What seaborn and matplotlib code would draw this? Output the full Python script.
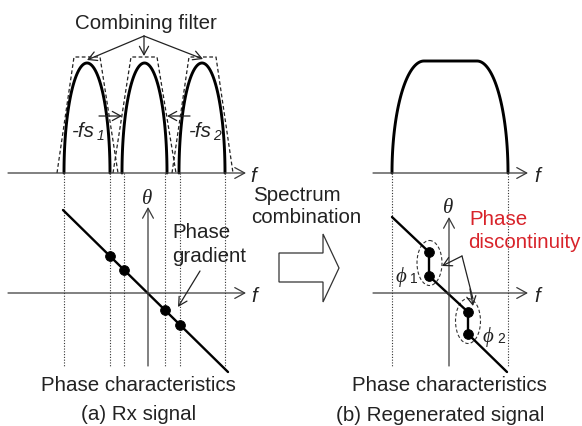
import numpy as np
import pandas as pd
import matplotlib.pyplot as plt
import seaborn as sns
from matplotlib.patches import Ellipse, Polygon

# ---- geometry of the diagram (pixel units, y grows downwards) ----
W, H = 582, 427
spec_base = 174          # spectrum f-axis
phase_base = 294         # phase f-axis
vline_bottom = 367

# (a) Rx signal: three received spectra
lobe_centers = [87, 144.5, 202]
lobe_halfwidths = [23, 22.5, 23]
lobe_peak = 64

# combining filters (trapezoids): bottom-left, top-left, top-right, bottom-right
filt_bot_left = [57, 113, 172]
filt_top_left = [74, 131, 189]
filt_top_right = [100, 157, 216]
filt_bot_right = [118, 176, 233]
filt_top = 58

band_edges_a = [64, 110, 124, 165, 180, 225]
theta_x_a = 148
phase_line_a_x = [63, 228]
phase_line_a_y = [211, 373]
dots_a_x = [110, 124, 165, 180]
dots_a_y = [257, 271, 311, 326]

# (b) regenerated signal
comb_left, comb_flat_l, comb_flat_r, comb_right = 392, 424, 477, 508
comb_top = 62
theta_x_b = 449
phase_b_x = [392, 429, 429, 468, 468, 507]
phase_b_y = [218, 253, 277, 313, 335, 373]
dots_b_x = [429, 429, 468, 468]
dots_b_y = [253, 277, 313, 335]
ellipse_cx = [429.5, 468]
ellipse_cy = [264, 322]

AX = '#3a3a3a'
TXT = '#222222'
RED = '#d8232a'

sns.set_theme(style='white')
plt.rcParams['font.family'] = ['Liberation Sans', 'DejaVu Sans']
SERIF = ['Liberation Serif', 'DejaVu Serif']

fig = plt.figure(figsize=(5.82, 4.27), dpi=100)
ax = fig.add_axes([0, 0, 1, 1])
ax.set_xlim(0, W)
ax.set_ylim(H, 0)
ax.axis('off')


def arrow(x0, y0, x1, y1, lw=0.9, color=AX, ms=13):
    ax.annotate('', xy=(x1, y1), xytext=(x0, y0),
                arrowprops=dict(arrowstyle='->,head_length=0.55,head_width=0.3',
                                lw=lw, color=color, shrinkA=0, shrinkB=0,
                                mutation_scale=ms))


def line(xs, ys, **kw):
    df = pd.DataFrame({'x': xs, 'y': ys})
    sns.lineplot(data=df, x='x', y='y', sort=False, estimator=None, ax=ax, **kw)


# ---------- panel (a) ----------
t = np.linspace(0, np.pi, 120)
for c, hw in zip(lobe_centers, lobe_halfwidths):
    line(c + hw * np.cos(t), spec_base - (spec_base - lobe_peak) * np.sin(t),
         color='black', lw=2.1)

for bl, tl, tr, br in zip(filt_bot_left, filt_top_left, filt_top_right, filt_bot_right):
    line([bl, tl, tr, br], [spec_base, filt_top, filt_top, spec_base],
         color=TXT, lw=0.9, linestyle=(0, (3, 2)))

for xe in band_edges_a:
    ax.plot([xe, xe], [spec_base, vline_bottom], color='#333333', lw=0.8,
            linestyle=(0, (1, 1.5)))

arrow(8, spec_base, 246, spec_base)
arrow(8, phase_base, 246, phase_base)
arrow(theta_x_a, vline_bottom, theta_x_a, 208)

line(phase_line_a_x, phase_line_a_y, color='black', lw=1.7)
sns.scatterplot(x=dots_a_x, y=dots_a_y, s=50, color='black', edgecolor='black',
                ax=ax, zorder=5)

fs = 14.8
ax.text(146, 29, 'Combining filter', fontsize=fs, ha='center', va='baseline', color=TXT)
for tip in [(87, 61), (144, 57), (203, 60)]:
    arrow(144, 37, tip[0], tip[1], lw=0.9, color=TXT, ms=11)

ax.text(72, 137, '-fs', fontsize=fs, style='italic', ha='left', va='baseline', color=TXT)
ax.text(97, 140, '1', fontsize=10, style='italic', ha='left', va='baseline', color=TXT)
ax.text(189, 137, '-fs', fontsize=fs, style='italic', ha='left', va='baseline', color=TXT)
ax.text(213, 140, '2', fontsize=10, style='italic', ha='left', va='baseline', color=TXT)
arrow(99, 117, 122, 117, color=TXT, ms=11)
arrow(190, 117, 167, 117, color=TXT, ms=11)

ax.text(250, 182, 'f', fontsize=fs, style='italic', ha='left', va='baseline', color=TXT)
ax.text(251, 302, 'f', fontsize=fs, style='italic', ha='left', va='baseline', color=TXT)
ax.text(147.5, 200, 'θ', fontsize=15, family=SERIF,
        style='italic', ha='center', va='center', color=TXT)

ax.text(172, 238, 'Phase', fontsize=fs, ha='left', va='baseline', color=TXT)
ax.text(172, 262, 'gradient', fontsize=fs, ha='left', va='baseline', color=TXT)
arrow(200, 272, 178, 308, color=TXT, ms=11)

ax.text(138, 391, 'Phase characteristics', fontsize=fs, ha='center', va='baseline', color=TXT)
ax.text(139, 420, '(a) Rx signal', fontsize=fs, ha='center', va='baseline', color=TXT)

# ---------- middle ----------
ax.text(253, 201, 'Spectrum', fontsize=fs, ha='left', va='baseline', color=TXT)
ax.text(251, 223, 'combination', fontsize=fs, ha='left', va='baseline', color=TXT)
big_arrow = Polygon([(279, 254), (323, 254), (323, 235), (339, 269),
                     (323, 303), (323, 283), (279, 283)], closed=True,
                    facecolor='white', edgecolor='#333', lw=0.9)
ax.add_patch(big_arrow)

# ---------- panel (b) ----------
q = np.linspace(0, np.pi / 2, 60)
hgt = spec_base - comb_top
xs = np.concatenate([comb_flat_l - (comb_flat_l - comb_left) * np.cos(q),
                     comb_flat_r + (comb_right - comb_flat_r) * np.sin(q)])
ys = np.concatenate([spec_base - hgt * np.sin(q),
                     spec_base - hgt * np.cos(q)])
line(xs, ys, color='black', lw=2.1)

for xe in [comb_left, comb_right]:
    ax.plot([xe, xe], [spec_base, vline_bottom], color='#333333', lw=0.8,
            linestyle=(0, (1, 1.5)))

arrow(373, spec_base, 528, spec_base)
arrow(373, phase_base, 528, phase_base)
arrow(theta_x_b, vline_bottom, theta_x_b, 218)

line(phase_b_x, phase_b_y, color='black', lw=1.7)
sns.scatterplot(x=dots_b_x, y=dots_b_y, s=50, color='black', edgecolor='black',
                ax=ax, zorder=5)
for cx, cy in zip(ellipse_cx, ellipse_cy):
    ax.add_patch(Ellipse((cx, cy), 25, 45, fill=False, edgecolor='#333',
                         lw=0.8, linestyle=(0, (3, 2))))

ax.text(534, 182, 'f', fontsize=fs, style='italic', ha='left', va='baseline', color=TXT)
ax.text(534, 302, 'f', fontsize=fs, style='italic', ha='left', va='baseline', color=TXT)
ax.text(448.5, 209, 'θ', fontsize=15, family=SERIF,
        style='italic', ha='center', va='center', color=TXT)

ax.text(469, 225, 'Phase', fontsize=fs, ha='left', va='baseline', color=RED)
ax.text(468, 248, 'discontinuity', fontsize=fs, ha='left', va='baseline', color=RED)
ax.plot([462, 473], [257, 300], color=TXT, lw=0.9)
arrow(462, 257, 442, 267, color=TXT, ms=11)
arrow(470, 290, 473, 307, color=TXT, ms=11)

ax.text(401, 282, 'ϕ', fontsize=15, family=SERIF, style='italic',
        ha='center', va='baseline', color=TXT)
ax.text(410, 283, '1', fontsize=10, ha='left', va='baseline', color=TXT)
ax.text(487.5, 342, 'ϕ', fontsize=15, family=SERIF, style='italic',
        ha='center', va='baseline', color=TXT)
ax.text(497, 343, '2', fontsize=10, ha='left', va='baseline', color=TXT)

ax.text(449.5, 391, 'Phase characteristics', fontsize=fs, ha='center', va='baseline', color=TXT)
ax.text(440, 421, '(b) Regenerated signal', fontsize=fs, ha='center', va='baseline', color=TXT)

fig.savefig('out.png', dpi=100)
